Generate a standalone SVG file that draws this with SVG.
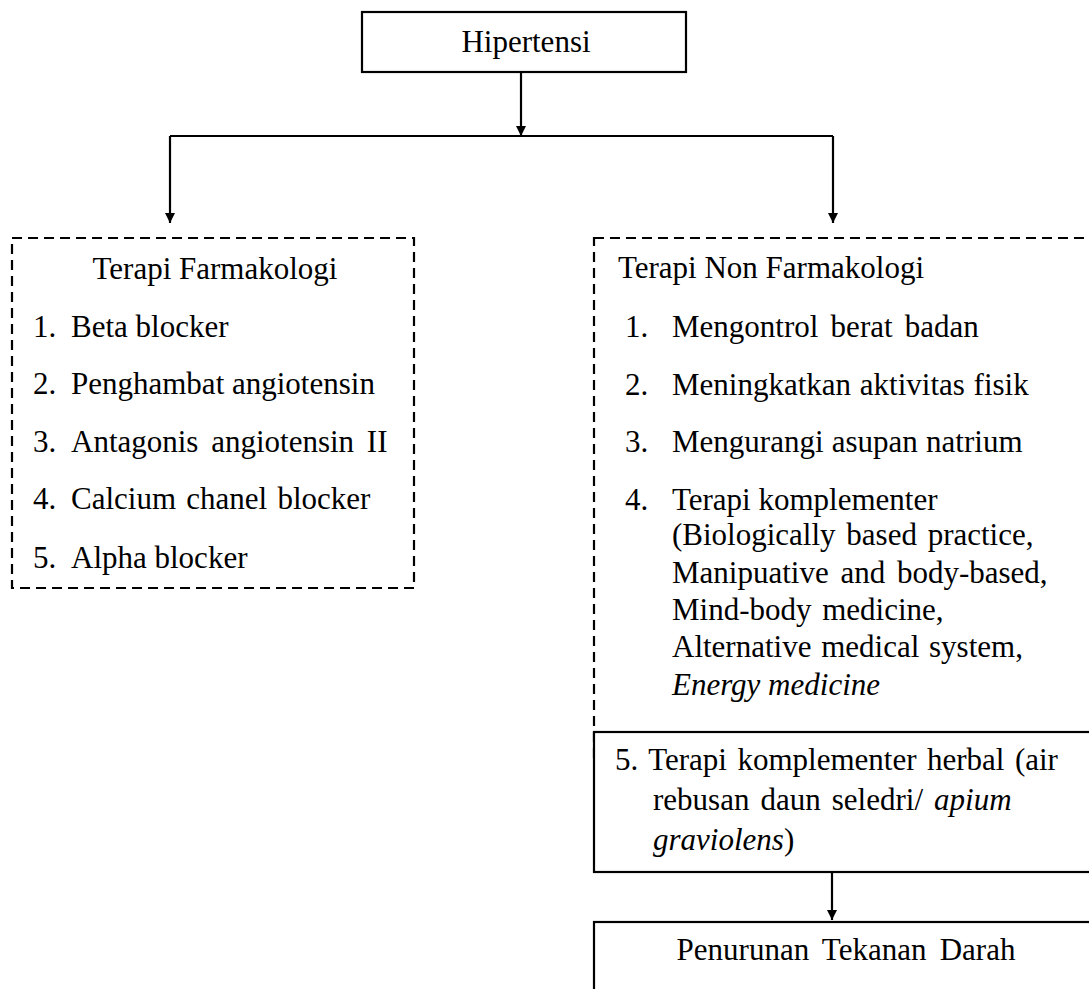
<svg xmlns="http://www.w3.org/2000/svg" width="1089" height="989" viewBox="0 0 1089 989">
<style>
text{font-family:'Liberation Serif','Times New Roman','DejaVu Serif',serif;font-size:31px;fill:#000}
.solid{fill:#fff;stroke:#000;stroke-width:2.2}
.dash{fill:none;stroke:#000;stroke-width:2.2;stroke-dasharray:10 6}
.ln{fill:none;stroke:#000;stroke-width:2.2}
.it{font-style:italic}
</style>
<defs>
<marker id="ah" viewBox="0 0 10 10" refX="10" refY="5" markerWidth="10" markerHeight="10" markerUnits="userSpaceOnUse" orient="auto">
<path d="M0,0 L10,5 L0,10 z" fill="#000"/>
</marker>
</defs>
<rect width="1089" height="989" fill="#fff"/>
<g id="connectors">
<path class="ln" d="M521,72 V136" marker-end="url(#ah)"/>
<path class="ln" d="M170,136 H833"/>
<path class="ln" d="M170,136 V223" marker-end="url(#ah)"/>
<path class="ln" d="M833,136 V223" marker-end="url(#ah)"/>
<path class="ln" d="M832,872 V920" marker-end="url(#ah)"/>
</g>
<g font-family="Liberation Serif, Times New Roman, serif">
<g id="hipertensi">
<rect class="solid" x="362" y="12" width="324" height="60"/>
<text x="526" y="52" text-anchor="middle">Hipertensi</text>
</g>
<g id="farmakologi">
<rect class="dash" x="12" y="238" width="402" height="350"/>
<text x="215" y="279" text-anchor="middle">Terapi Farmakologi</text>
<text x="33" y="337">1.</text><text x="71" y="337">Beta blocker</text>
<text x="33" y="394">2.</text><text x="71" y="394">Penghambat angiotensin</text>
<text x="33" y="452">3.</text><text x="71" y="452" word-spacing="5">Antagonis angiotensin II</text>
<text x="33" y="509">4.</text><text x="71" y="509" word-spacing="2.5">Calcium chanel blocker</text>
<text x="33" y="568">5.</text><text x="71" y="568">Alpha blocker</text>
</g>
<g id="non-farmakologi">
<rect class="dash" x="594" y="238" width="620" height="520"/>
<text x="618" y="278">Terapi Non Farmakologi</text>
<text x="625" y="337">1.</text><text x="672" y="337" word-spacing="4.5">Mengontrol berat badan</text>
<text x="625" y="395">2.</text><text x="672" y="395" word-spacing="1">Meningkatkan aktivitas fisik</text>
<text x="625" y="452">3.</text><text x="672" y="452" word-spacing="0.5">Mengurangi asupan natrium</text>
<text x="625" y="510">4.</text><text x="672" y="510">Terapi komplementer</text>
<text x="672" y="545" word-spacing="3">(Biologically based practice,</text>
<text x="672" y="583" word-spacing="4">Manipuative and body-based,</text>
<text x="672" y="620" word-spacing="3">Mind-body medicine,</text>
<text x="672" y="657" word-spacing="2">Alternative medical system,</text>
<text x="672" y="695" class="it">Energy medicine</text>
</g>
<g id="herbal">
<rect class="solid" x="594" y="732" width="620" height="140"/>
<text x="615" y="770" word-spacing="2.75">5. Terapi komplementer herbal (air</text>
<text x="653" y="810" word-spacing="3.3">rebusan daun seledri/ <tspan class="it">apium</tspan></text>
<text x="653" y="850"><tspan class="it">graviolens</tspan>)</text>
</g>
<g id="penurunan">
<rect class="solid" x="594" y="922" width="620" height="120"/>
<text x="846" y="960" text-anchor="middle" word-spacing="5.5">Penurunan Tekanan Darah</text>
</g>
</g>
</svg>
